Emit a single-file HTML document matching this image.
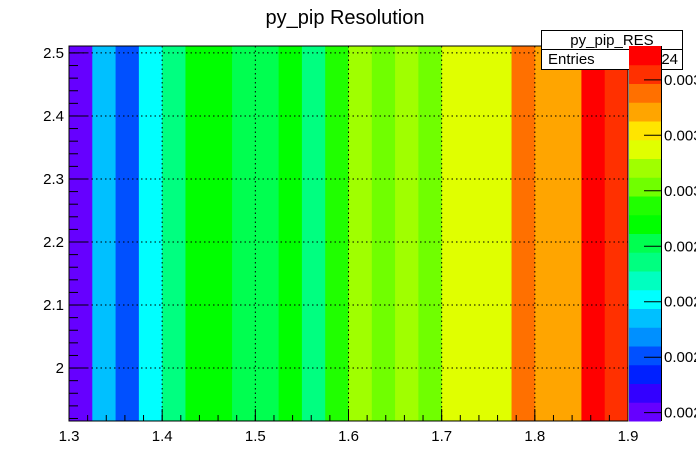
<!DOCTYPE html>
<html><head><meta charset="utf-8"><style>
html,body{margin:0;padding:0;background:#fff;width:696px;height:471px;overflow:hidden}
svg{display:block;font-family:"Liberation Sans",Arial,sans-serif}
</style></head><body>
<svg id="c" width="696" height="471">
<text x="345" y="24" text-anchor="middle" font-size="20">py_pip Resolution</text>
<g id="bins"></g><g id="grid"></g><g id="axes"></g>
<g>
<rect x="541.5" y="30.5" width="141" height="39" fill="#fff" stroke="#000"/>
<line x1="541.5" y1="49.5" x2="682.5" y2="49.5" stroke="#000"/>
<text x="612" y="45" text-anchor="middle" font-size="15">py_pip_RES</text>
<text x="548" y="64" font-size="15">Entries</text>
<text x="678" y="64" text-anchor="end" font-size="15">24</text>
</g>
<g id="pal"></g>
</svg>
<script>
const xEdges=[1.3,1.325,1.35,1.375,1.4,1.425,1.45,1.475,1.5,1.525,1.55,1.575,1.6,1.625,1.65,1.675,1.7,1.725,1.75,1.775,1.8,1.825,1.85,1.875,1.9];
const zValues=[0.002203,0.002538,0.002404,0.002605,0.002739,0.002873,0.002873,0.002806,0.002806,0.002873,0.002739,0.002940,0.003074,0.003007,0.003074,0.003007,0.003141,0.003141,0.003141,0.003342,0.003275,0.003275,0.003476,0.003409];
const xTickLabels=["1.3","1.4","1.5","1.6","1.7","1.8","1.9"];
const yTickLabels=["2","2.1","2.2","2.3","2.4","2.5"];
const zTickLabels=["0.0022","0.0024","0.0026","0.0028","0.003","0.0032","0.0034"];
const colors=["#6600ff","#3300ff","#0020ff","#0050ff","#0090ff","#00c0ff","#00ffff","#00ffc0","#00ff80","#00ff50","#00ff00","#20ff00","#70ff00","#a0ff00","#e0ff00","#ffe500","#ffa500","#ff7000","#ff3000","#ff0000"];
const L=69,R=628,T=46,B=421,X0=1.3,X1=1.9,Y0=1.916,Y1=2.511;
const zmin=0.00217,zstep=0.0000676,NL=20;
const PX0=629,PX1=661;
function sx(v){return L+(v-X0)/(X1-X0)*(R-L);}
function sy(v){return B-(v-Y0)/(Y1-Y0)*(B-T);}
function sz(v){return B-(v-zmin)/(zstep*NL)*(B-T);}
const NS="http://www.w3.org/2000/svg";
function mk(t,a,p){const e=document.createElementNS(NS,t);for(const k in a)e.setAttribute(k,a[k]);p.appendChild(e);return e;}
const gb=document.getElementById('bins'),gg=document.getElementById('grid'),ga=document.getElementById('axes'),gp=document.getElementById('pal');
zValues.forEach((z,i)=>{
 let lv=Math.floor((z-zmin)/zstep);lv=Math.max(0,Math.min(NL-1,lv));
 const x=sx(xEdges[i]),w=sx(xEdges[i+1])-x;
 const r=mk('rect',{x:x,y:T,width:w+0.5,height:B-T,fill:colors[lv]},gb);
 
 
});
xTickLabels.forEach((l,i)=>{
 const v=parseFloat(l),x=sx(v);
 if(i>0&&i<xTickLabels.length-1){const g=mk('line',{x1:x,y1:T,x2:x,y2:B,stroke:'#000','stroke-dasharray':'1.5,3'},gg);
 
 }
 mk('line',{x1:x,y1:B,x2:x,y2:B-12,stroke:'#000'},ga);
 const t=mk('text',{x:x,y:B+20,'text-anchor':'middle','font-size':'15'},ga);t.textContent=l;
 
 
});
for(let v=1.3;v<1.9001;v+=0.02){const x=sx(v);mk('line',{x1:x,y1:B,x2:x,y2:B-6,stroke:'#000'},ga);}
yTickLabels.forEach(l=>{
 const v=parseFloat(l),y=sy(v);
 const g=mk('line',{x1:L,y1:y,x2:R,y2:y,stroke:'#000','stroke-dasharray':'1.5,3'},gg);
 
 
 mk('line',{x1:L,y1:y,x2:L+18,y2:y,stroke:'#000'},ga);
 const t=mk('text',{x:L-5,y:y+5,'text-anchor':'end','font-size':'15'},ga);t.textContent=l;
 
 
});
for(let v=1.92;v<2.511;v+=0.02){const y=sy(v);mk('line',{x1:L,y1:y,x2:L+9,y2:y,stroke:'#000'},ga);}
const fr=mk('rect',{x:L,y:T,width:R-L,height:B-T,fill:'none',stroke:'#000'},ga);


colors.forEach((c,i)=>{
 const y0=B-(i+1)*(B-T)/NL;
 const r=mk('rect',{x:PX0,y:y0,width:PX1-PX0,height:(B-T)/NL+0.5,fill:c},gp);
 
 
});
mk('line',{x1:PX1+0.5,y1:T,x2:PX1+0.5,y2:B,stroke:'#000'},gp);
zTickLabels.forEach(l=>{
 const y=sz(parseFloat(l));
 mk('line',{x1:PX1-17,y1:y,x2:PX1,y2:y,stroke:'#000'},gp);
 const t=mk('text',{x:PX1+3,y:y+5,'font-size':'15'},gp);t.textContent=l;
 
 
});
</script>
</body></html>
